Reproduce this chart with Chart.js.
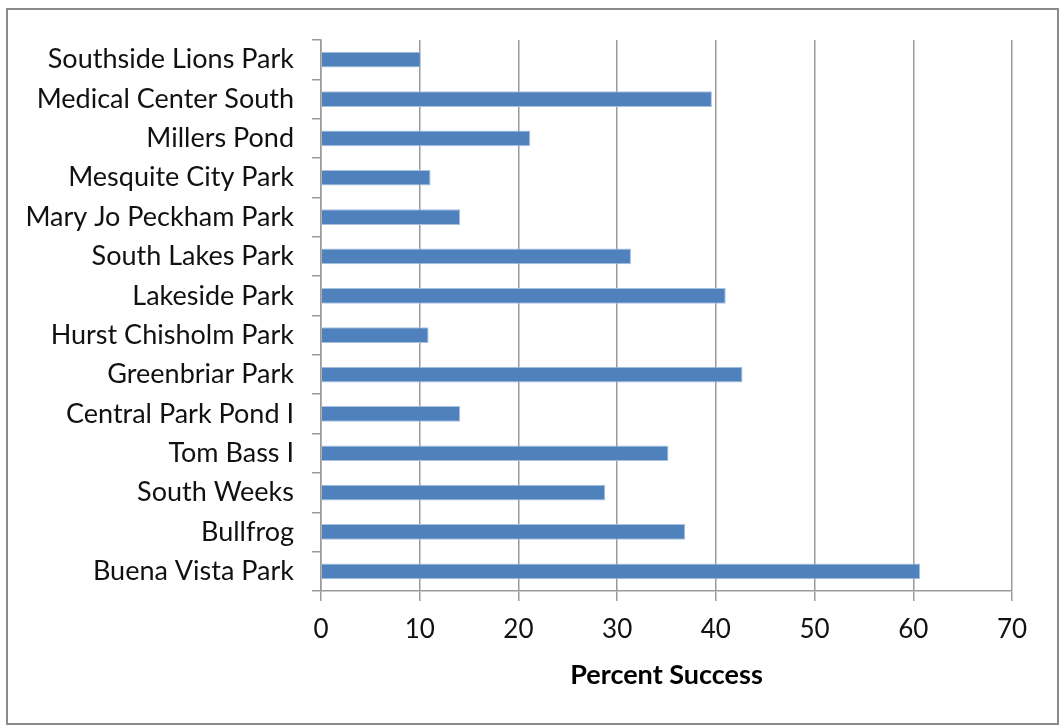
<!DOCTYPE html>
<html>
<head>
<meta charset="utf-8">
<script src="https://cdn.jsdelivr.net/npm/chart.js@4"></script>
<style>
  html, body { margin: 0; padding: 0; background: #fff; }
  #wrap { width: 1061px; height: 726px; position: relative; }
</style>
</head>
<body>
<div id="wrap"><canvas id="grafico" width="1061" height="726"></canvas></div>
<script>
const parques = [
    'Southside Lions Park', 'Medical Center South', 'Millers Pond', 'Mesquite City Park',
    'Mary Jo Peckham Park', 'South Lakes Park', 'Lakeside Park', 'Hurst Chisholm Park',
    'Greenbriar Park', 'Central Park Pond I', 'Tom Bass I', 'South Weeks',
    'Bullfrog', 'Buena Vista Park'
];
const exito = [10.1, 39.6, 21.2, 11.1, 14.1, 31.4, 41.0, 10.9, 42.7, 14.1, 35.2, 28.8, 36.9, 60.7];
const tituloX = 'Percent Success';

// marco gris alrededor del gráfico
const marco = {
    id: 'marco',
    beforeDraw(chart) {
        const ctx = chart.ctx;
        ctx.save();
        ctx.fillStyle = '#fff';
        ctx.fillRect(0, 0, chart.width, chart.height);
        ctx.strokeStyle = '#8a8a8a';
        ctx.lineWidth = 2;
        ctx.strokeRect(7, 9, 1051, 715);
        ctx.restore();
    }
};

const gris = '#9a9a9a';

new Chart(document.getElementById('grafico'), {
    type: 'bar',
    data: {
        labels: parques,
        datasets: [{
            label: tituloX,
            data: exito,
            backgroundColor: '#4f81bd',
            borderColor: '#a9c1e0',
            borderWidth: 1,
            categoryPercentage: 1,
            barPercentage: 0.4
        }]
    },
    options: {
        indexAxis: 'y',
        responsive: false,
        animation: false,
        layout: {
            padding: { top: 40, right: 49, left: 0, bottom: 0 }
        },
        plugins: {
            legend: { display: false },
            tooltip: { enabled: false }
        },
        scales: {
            x: {
                min: 0,
                max: 70,
                ticks: {
                    stepSize: 10,
                    color: '#111',
                    padding: 13,
                    font: { family: 'Lato', size: 26 }
                },
                grid: {
                    color: gris,
                    lineWidth: 1.5,
                    tickLength: 10
                },
                border: { color: gris, width: 1.5 },
                title: {
                    display: true,
                    text: tituloX,
                    color: '#000',
                    font: { family: 'Lato', size: 27, weight: 'bold' },
                    padding: { top: 0, bottom: 35 }
                },
                afterFit(scale) {
                    scale.height = 135;
                }
            },
            y: {
                ticks: {
                    color: '#111',
                    padding: 18,
                    font: { family: 'Lato', size: 27 }
                },
                grid: {
                    drawOnChartArea: false,
                    color: gris,
                    lineWidth: 1.5,
                    tickLength: 9
                },
                border: { color: gris, width: 1.5 },
                afterFit(scale) {
                    scale.width = 321;
                }
            }
        }
    },
    plugins: [marco]
});
</script>
</body>
</html>
